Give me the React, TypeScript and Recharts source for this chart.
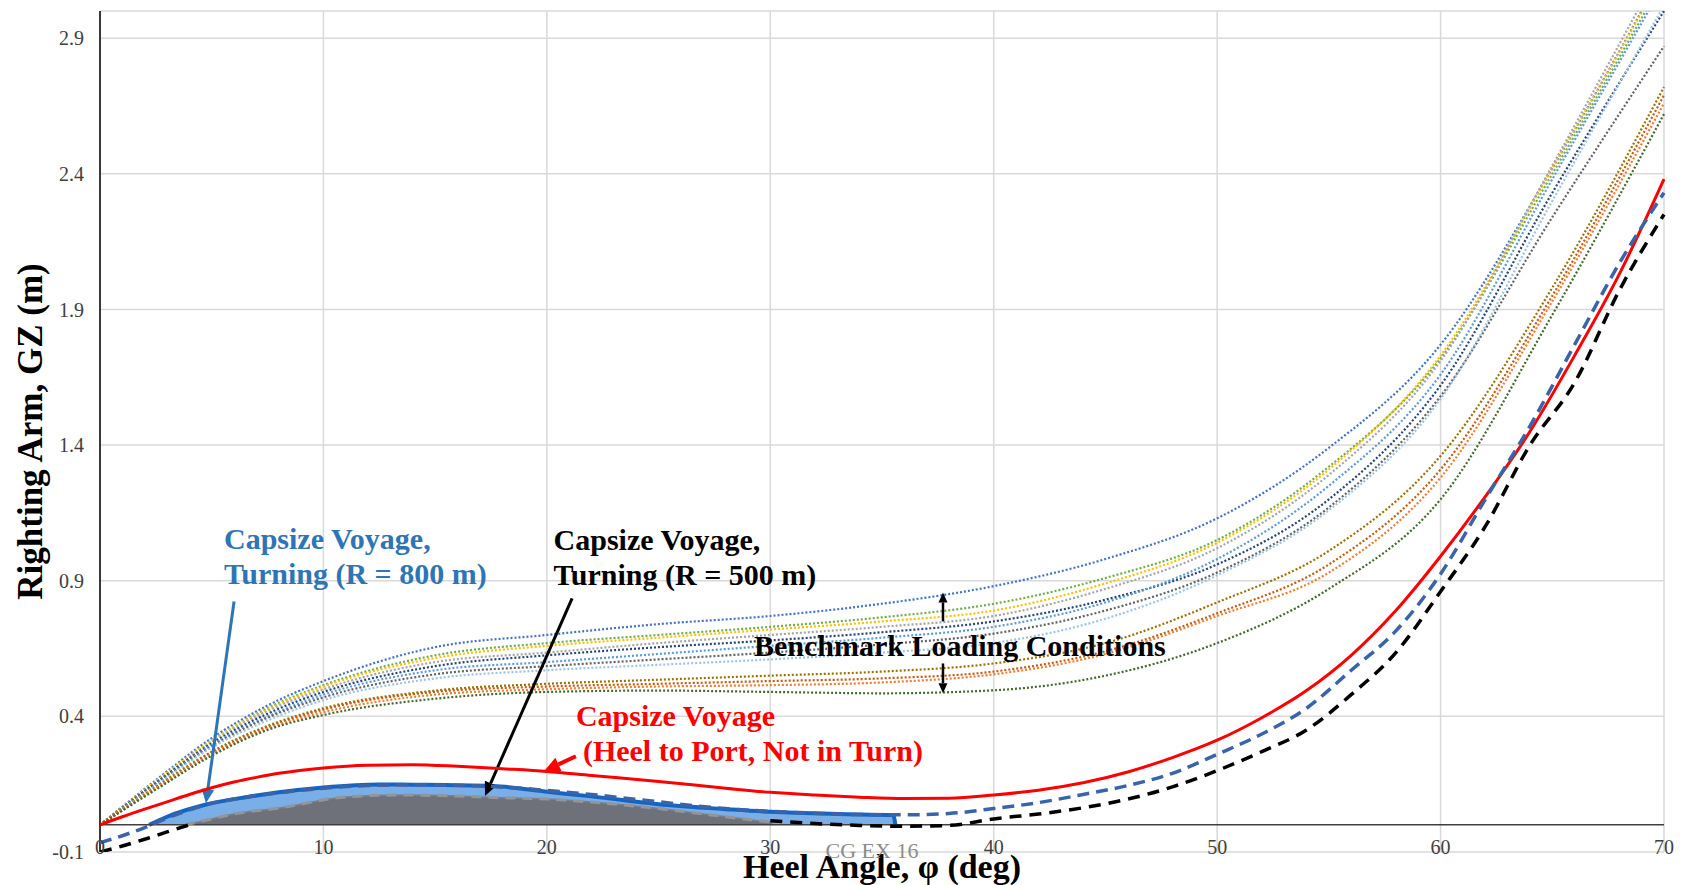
import React from 'react'
import { ComposedChart, Line, Area, XAxis, YAxis, CartesianGrid, ReferenceLine, ReferenceDot } from 'recharts'

// GZ curves - benchmark loading conditions vs. capsize voyage conditions

const serif = '"Liberation Serif", "Times New Roman", serif'

const heelTicks = [0, 10, 20, 30, 40, 50, 60, 70]
const gzTicks = [-0.1, 0.4, 0.9, 1.4, 1.9, 2.4, 2.9]

// benchmark loading conditions (dotted)
const benchAngles = [0, 2.5, 5, 7.5, 10, 15, 20, 25, 30, 35, 40, 45, 50, 55, 60, 65, 70]
const bench01 = [0, 0.165, 0.32, 0.44, 0.53, 0.655, 0.70, 0.74, 0.77, 0.815, 0.88, 0.98, 1.13, 1.39, 1.77, 2.42, 3.15]
const bench02 = [0, 0.16, 0.31, 0.43, 0.515, 0.625, 0.67, 0.70, 0.73, 0.765, 0.815, 0.91, 1.05, 1.32, 1.72, 2.40, 3.12]
const bench03 = [0, 0.16, 0.31, 0.425, 0.51, 0.615, 0.66, 0.69, 0.72, 0.75, 0.79, 0.89, 1.04, 1.31, 1.73, 2.42, 3.14]
const bench04 = [0, 0.155, 0.305, 0.42, 0.50, 0.60, 0.635, 0.67, 0.70, 0.73, 0.77, 0.87, 1.02, 1.29, 1.71, 2.43, 3.18]
const bench05 = [0, 0.155, 0.30, 0.41, 0.49, 0.585, 0.625, 0.655, 0.68, 0.71, 0.75, 0.83, 0.96, 1.20, 1.62, 2.33, 3.0]
const bench06 = [0, 0.15, 0.295, 0.40, 0.48, 0.57, 0.60, 0.63, 0.66, 0.69, 0.73, 0.82, 0.98, 1.25, 1.66, 2.38, 3.10]
const bench07 = [0, 0.15, 0.29, 0.395, 0.47, 0.555, 0.585, 0.61, 0.635, 0.665, 0.705, 0.79, 0.93, 1.17, 1.58, 2.24, 2.87]
const bench08 = [0, 0.145, 0.285, 0.385, 0.46, 0.54, 0.57, 0.59, 0.61, 0.635, 0.67, 0.76, 0.92, 1.16, 1.57, 2.30, 3.02]
const bench09 = [0, 0.14, 0.27, 0.365, 0.43, 0.495, 0.52, 0.535, 0.55, 0.565, 0.595, 0.67, 0.82, 1.01, 1.36, 1.98, 2.72]
const bench10 = [0, 0.135, 0.265, 0.36, 0.425, 0.49, 0.51, 0.52, 0.53, 0.54, 0.565, 0.64, 0.78, 0.96, 1.31, 1.95, 2.69]
const bench11 = [0, 0.135, 0.26, 0.355, 0.415, 0.48, 0.50, 0.51, 0.515, 0.525, 0.555, 0.63, 0.77, 0.93, 1.28, 1.93, 2.66]
const bench12 = [0, 0.13, 0.255, 0.35, 0.405, 0.465, 0.49, 0.495, 0.49, 0.485, 0.496, 0.55, 0.67, 0.87, 1.20, 1.88, 2.62]
const benchSeries = [bench01, bench02, bench03, bench04, bench05, bench06, bench07, bench08, bench09, bench10, bench11, bench12]
const benchColors = ['#4472C4', '#70AD47', '#FFC000', '#A5A5A5', '#264478', '#5B9BD5', '#636363', '#9DC3E6', '#997300', '#C55A11', '#ED7D31', '#43682B']

// capsize voyage curves
const voyageAngles = [0, 1, 2, 3, 4, 5, 6, 7, 8, 10, 12, 14, 16, 18, 20, 22, 25, 28, 30, 32, 34, 36, 38, 40, 42, 44, 46, 48, 50, 52, 54, 56, 58, 60, 62, 64, 66, 68, 70]
const gzNotInTurn = [0, 0.03, 0.058, 0.085, 0.112, 0.137, 0.158, 0.175, 0.19, 0.21, 0.22, 0.222, 0.216, 0.207, 0.197, 0.182, 0.16, 0.135, 0.12, 0.11, 0.102, 0.097, 0.098, 0.11, 0.128, 0.155, 0.195, 0.248, 0.312, 0.395, 0.495, 0.625, 0.79, 0.99, 1.21, 1.45, 1.73, 2.03, 2.38]
const gzTurn800 = [-0.066, -0.04, -0.01, 0.025, 0.055, 0.08, 0.095, 0.108, 0.118, 0.135, 0.145, 0.148, 0.146, 0.14, 0.127, 0.112, 0.085, 0.06, 0.05, 0.043, 0.038, 0.037, 0.042, 0.06, 0.082, 0.112, 0.145, 0.19, 0.26, 0.335, 0.43, 0.57, 0.715, 0.925, 1.20, 1.47, 1.77, 2.07, 2.33]
const gzTurn500 = [-0.1, -0.078, -0.053, -0.026, 0.0, 0.022, 0.04, 0.055, 0.068, 0.092, 0.105, 0.11, 0.108, 0.103, 0.096, 0.085, 0.06, 0.033, 0.015, 0.005, -0.002, -0.005, -0.002, 0.022, 0.04, 0.063, 0.095, 0.14, 0.2, 0.27, 0.35, 0.48, 0.635, 0.86, 1.1, 1.4, 1.63, 1.97, 2.25]

// shaded areas (positive righting arm while turning)
const fill800Angles = [2.2, 3, 4.8, 6.6, 8, 10, 12.5, 14, 17.6, 20, 22, 25.4, 28, 30, 33, 35.5, 35.6]
const fill800GZ = [0, 0.03, 0.076, 0.103, 0.12, 0.138, 0.149, 0.148, 0.143, 0.122, 0.105, 0.073, 0.058, 0.048, 0.04, 0.036, 0]
const fill500Angles = [3.8, 5, 6, 8.1, 11, 13.4, 16, 17.6, 20, 22, 25, 27.2, 29.8, 30, 30.1]
const fill500GZ = [0, 0.022, 0.04, 0.063, 0.103, 0.11, 0.106, 0.101, 0.095, 0.084, 0.06, 0.038, 0.012, 0.01, 0]

// annotation text
const note800 = ['Capsize Voyage,', 'Turning (R = 800 m)']
const note500 = ['Capsize Voyage,', 'Turning (R = 500 m)']
const noteNoTurn = ['Capsize Voyage', '(Heel to Port, Not in Turn)']
const noteBench = ['Benchmark Loading Conditions']

const benchRows = benchAngles.map((a, i) => {
  const row: any = { heel: a }
  benchSeries.forEach((s, k) => { row['b' + k] = s[i] })
  return row
})
const voyageRows = voyageAngles.map((a, i) => ({
  heel: a,
  red: gzNotInTurn[i],
  blue: gzTurn800[i],
  black: a <= 4 || a >= 30 ? gzTurn500[i] : null,
}))
const fill800Rows = fill800Angles.map((a, i) => ({ heel: a, gz: fill800GZ[i] }))
const fill500Rows = fill500Angles.map((a, i) => ({ heel: a, gz: fill500GZ[i] }))

const arrowShape = (color: string, width: number, head: number) => (p: any) => {
  const { x1, y1, x2, y2 } = p
  const ang = Math.atan2(y2 - y1, x2 - x1)
  const bx = x2 - head * Math.cos(ang)
  const by = y2 - head * Math.sin(ang)
  const hw = head * 0.45
  const pts = [
    [x2, y2],
    [bx + hw * Math.sin(ang), by - hw * Math.cos(ang)],
    [bx - hw * Math.sin(ang), by + hw * Math.cos(ang)],
  ].map((q) => q.join(',')).join(' ')
  return (
    <g>
      <line x1={x1} y1={y1} x2={bx} y2={by} stroke={color} strokeWidth={width} />
      <polygon points={pts} fill={color} />
    </g>
  )
}

const noteShape = (lines: string[], color: string, size: number, weight: string, indent = 0) => (p: any) => (
  <text x={p.cx} y={p.cy} fill={color} fontFamily={serif} fontSize={size} fontWeight={weight} dominantBaseline="central">
    {lines.map((t, i) => (
      <tspan key={i} x={p.cx + (i > 0 ? indent : 0)} dy={i === 0 ? 0 : 35}>{t}</tspan>
    ))}
  </text>
)

const XTick = (p: any) => (
  <text x={p.x} y={p.y - 5} textAnchor="middle" dominantBaseline="central" fontFamily={serif} fontSize={20} fill="#404040">
    {p.payload.value}
  </text>
)

export default function App() {
  return (
    <div style={{ position: 'absolute', left: 0, top: 0, background: '#fff' }}>
      <ComposedChart width={1684} height={885} margin={{ top: 11, right: 20, left: 0, bottom: 0 }}>
        <CartesianGrid stroke="#d9d9d9" strokeWidth={1.5} />
        <XAxis
          type="number"
          dataKey="heel"
          domain={[0, 70]}
          ticks={heelTicks}
          height={33}
          axisLine={false}
          tickLine={false}
          tickSize={0}
          tickMargin={0}
          tick={<XTick />}
          label={{
            content: ({ viewBox }: any) => (
              <text x={viewBox.x + viewBox.width / 2} y={viewBox.y + 14} textAnchor="middle" dominantBaseline="central"
                fontFamily={serif} fontSize={34} fontWeight="bold" fill="#000">
                Heel Angle, φ (deg)
              </text>
            ),
          }}
        />
        <YAxis
          type="number"
          domain={[-0.1, 3.0]}
          ticks={gzTicks}
          allowDataOverflow
          width={100}
          axisLine={{ stroke: '#000', strokeWidth: 1.5 }}
          tickLine={false}
          tickSize={0}
          tickMargin={16}
          tickFormatter={(v: number) => v.toFixed(1)}
          tick={{ fontFamily: serif, fontSize: 20, fill: '#404040' }}
          label={{
            content: ({ viewBox }: any) => {
              const cx = 30
              const cy = viewBox.y + viewBox.height / 2
              return (
                <text x={cx} y={cy} transform={`rotate(-90 ${cx} ${cy})`} textAnchor="middle" dominantBaseline="central"
                  fontFamily={serif} fontSize={35} fontWeight="bold" fill="#000">
                  Righting Arm, GZ (m)
                </text>
              )
            },
          }}
        />
        <ReferenceLine y={0} stroke="#404040" strokeWidth={1.5} />

        {benchColors.map((c, k) => (
          <Line key={k} data={benchRows} dataKey={'b' + k} type="monotone" stroke={c} strokeWidth={2.2}
            strokeDasharray="2 2" dot={false} activeDot={false} isAnimationActive={false} />
        ))}

        <Area data={fill800Rows} dataKey="gz" type="monotone" baseValue={0} fill="#7aaee6" fillOpacity={1}
          stroke="#1565C0" strokeWidth={4} isAnimationActive={false} />
        <Area data={fill500Rows} dataKey="gz" type="monotone" baseValue={0} fill="#6e7179" fillOpacity={1}
          stroke="#7d8088" strokeWidth={1.5} isAnimationActive={false} />
        <Line data={fill500Rows} dataKey="gz" type="monotone" stroke="#92959b" strokeWidth={3} strokeDasharray="10 7"
          dot={false} activeDot={false} isAnimationActive={false} zIndex={500} />

        <Line data={voyageRows} dataKey="red" type="monotone" stroke="#FF0000" strokeWidth={3}
          dot={false} activeDot={false} isAnimationActive={false} zIndex={500} />
        <Line data={voyageRows} dataKey="blue" type="monotone" stroke="#3A64AA" strokeWidth={3.5} strokeDasharray="12 7"
          dot={false} activeDot={false} isAnimationActive={false} zIndex={500} />
        <Line data={voyageRows} dataKey="black" type="monotone" stroke="#000" strokeWidth={3.5} strokeDasharray="12 8"
          dot={false} activeDot={false} isAnimationActive={false} zIndex={500} />

        <ReferenceLine segment={[{ x: 6.0, y: 0.8235 }, { x: 4.74, y: 0.08 }]} ifOverflow="visible" shape={arrowShape('#2E75B6', 3, 14)} />
        <ReferenceLine segment={[{ x: 21.13, y: 0.8345 }, { x: 17.23, y: 0.106 }]} ifOverflow="visible" shape={arrowShape('#000', 3, 14)} />
        <ReferenceLine segment={[{ x: 21.3, y: 0.253 }, { x: 19.87, y: 0.198 }]} ifOverflow="visible" shape={arrowShape('#FF0000', 4, 16)} />
        <ReferenceLine segment={[{ x: 37.73, y: 0.75 }, { x: 37.73, y: 0.857 }]} ifOverflow="visible" shape={arrowShape('#000', 2.5, 10)} />
        <ReferenceLine segment={[{ x: 37.73, y: 0.595 }, { x: 37.73, y: 0.485 }]} ifOverflow="visible" shape={arrowShape('#000', 2.5, 10)} />

        <ReferenceDot x={5.55} y={1.059} ifOverflow="visible" shape={noteShape(note800, '#2E75B6', 30, 'bold')} />
        <ReferenceDot x={20.3} y={1.052} ifOverflow="visible" shape={noteShape(note500, '#000', 30, 'bold')} />
        <ReferenceDot x={21.3} y={0.404} ifOverflow="visible" shape={noteShape(noteNoTurn, '#FF0000', 30, 'bold', 7)} />
        <ReferenceDot x={29.27} y={0.662} ifOverflow="visible" shape={noteShape(noteBench, '#000', 30, 'bold')} />
        <ReferenceDot x={34.55} y={-0.093} ifOverflow="visible"
          shape={(p: any) => (
            <text x={p.cx} y={p.cy} textAnchor="middle" dominantBaseline="central" fontFamily={serif} fontSize={22} fill="#8c8c8c">
              CG EX 16
            </text>
          )} />
      </ComposedChart>
    </div>
  )
}
